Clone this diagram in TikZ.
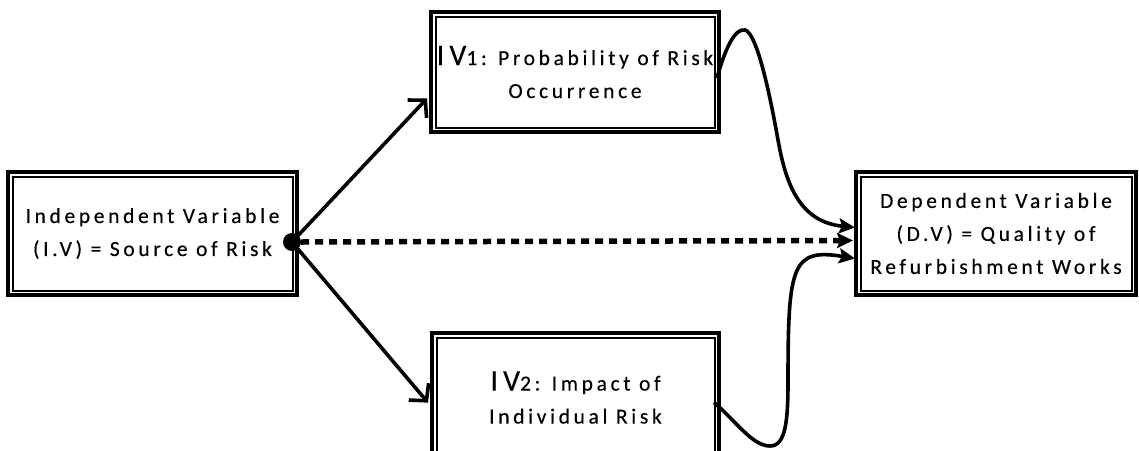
\documentclass[tikz,border=0pt]{standalone}
\usepackage{fontspec}
\setmainfont{Carlito}[LetterSpace=17,FakeBold=0.3]
\usetikzlibrary{arrows.meta,calc}
\begin{document}
\begin{tikzpicture}[x=1pt,y=-1pt,
  box/.style={draw, line width=3.4pt, outer sep=0pt, inner sep=0pt, align=center,
    font=\fontsize{21.5}{33}\selectfont},
  frame/.style={line width=2pt},
  link/.style={line width=3.6pt, -{Straight Barb[length=12pt,width=26pt,line width=3.6pt]}},
  flow/.style={line width=3.6pt, -{Stealth[length=16pt,width=15pt,inset=3pt]}},
  hint/.style={line width=5.5pt, dash pattern=on 8pt off 6pt, -{Stealth[length=16pt,width=15pt,inset=3pt]}}
]
\useasboundingbox (0,0) rectangle (1139,450);
\clip (0,0) rectangle (1139,450);

% boxes
\node[box, minimum width=289pt, minimum height=123pt] (iv) at (152.5,233.5)
  {Independent Variable\\(I.V) = Source of Risk};
\node[box, minimum width=288pt, minimum height=120pt] (iv1) at (575,72)
  {{\fontsize{30}{33}\selectfont IV}1: Probability of Risk\\Occurrence};
\node[box, minimum width=287pt, minimum height=129pt] (iv2) at (575.5,397.5)
  {{\fontsize{30}{33}\selectfont IV}2: Impact of\\Individual Risk};
\node[box, minimum width=280pt, minimum height=123pt] (dv) at (996,233.5)
  {Dependent Variable\\(D.V) = Quality of\\Refurbishment Works};

% inner frame lines
\foreach \n in {iv,iv1,iv2,dv}
  \draw[frame] ($(\n.north west)+(4.5,4.5)$) rectangle ($(\n.south east)+(-4.5,-4.5)$);

% source point
\node[circle, fill, minimum size=18pt, inner sep=0pt] (src) at (292,242) {};

% links
\draw[link] (src.center) -- ($(iv1.south west)!0.28!(iv1.north west)+(-4,0)$);
\draw[link] (src.center) -- ($(iv2.north west)!0.54!(iv2.south west)+(-4,0)$);
\draw[hint] (src.east) -- ($(dv.west)+(-3,7)$);

\draw[flow] ($(iv1.east)+(-2,6)$) .. controls (726,45) and (736,28) .. (745,30)
  .. controls (757,33) and (770,95) .. (778,140)
  .. controls (786,185) and (800,222) .. ($(dv.west)+(-1,-6)$);
\draw[flow] ($(iv2.east)+(-5,5)$) .. controls (735,420) and (752,446) .. (770,446)
  .. controls (786,446) and (788,420) .. (788,380)
  .. controls (788,265) and (792,248) .. ($(dv.west)+(-1,25)$);
\end{tikzpicture}
\end{document}
